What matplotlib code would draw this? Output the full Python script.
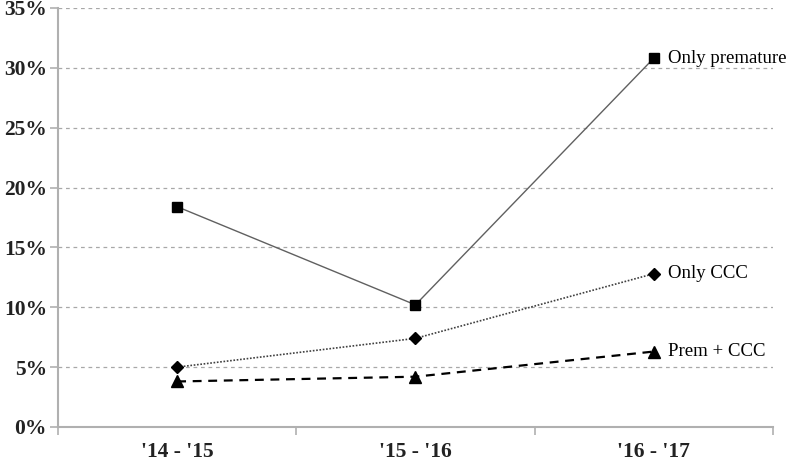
import matplotlib
matplotlib.use('Agg')
import matplotlib.pyplot as plt
from matplotlib.ticker import FuncFormatter

# 数据
periods = ["'14 - '15", "'15 - '16", "'16 - '17"]
only_premature = [18.4, 10.2, 30.8]
only_ccc = [5.0, 7.4, 12.8]
prem_ccc = [3.8, 4.2, 6.3]
y_ticks = [0, 5, 10, 15, 20, 25, 30, 35]

plt.rcParams['font.family'] = ['Liberation Serif', 'DejaVu Serif']

fig = plt.figure(figsize=(7.87, 4.62), dpi=100)
ax = fig.add_axes([0.0737, 0.0758, 0.9083, 0.907])

x = list(range(len(periods)))

ax.plot(x, only_premature, color='#606060', lw=1.0, ls='-',
        marker='s', ms=7, mfc='black', mec='black', zorder=3)
ax.plot(x, only_ccc, color='#404040', lw=1.2, ls=(0, (1, 1)),
        marker='D', ms=6.5, mfc='black', mec='black', zorder=3)
ax.plot(x, prem_ccc, color='black', lw=1.6, ls=(0, (4, 3)),
        marker='^', ms=8.5, mfc='black', mec='black', zorder=3)

# 系列标签
ax.text(x[-1] + 0.06, only_premature[-1], 'Only premature', fontsize=13.5, va='center')
ax.text(x[-1] + 0.06, only_ccc[-1], 'Only CCC', fontsize=13.5, va='center')
ax.text(x[-1] + 0.06, prem_ccc[-1], 'Prem + CCC', fontsize=13.5, va='center')

ax.set_xlim(-0.5, 2.5)
ax.set_ylim(0, 35)
ax.set_yticks(y_ticks)
ax.yaxis.set_major_formatter(FuncFormatter(lambda v, p: f'{v:.0f}%'))
ax.yaxis.grid(True, color='#a8a8a8', ls=(0, (3, 3)), lw=0.9)
ax.set_axisbelow(True)

ax.set_xticks(x)
ax.set_xticklabels(periods)
ax.set_xticks([-0.5, 0.5, 1.5, 2.5], minor=True)
ax.tick_params(axis='x', which='major', length=0, pad=11)
ax.tick_params(axis='x', which='minor', length=6, color='#b0b0b0', width=1.2)
ax.tick_params(axis='y', length=6, color='#b0b0b0', width=1.2, pad=2)

for lab in ax.get_xticklabels() + ax.get_yticklabels():
    lab.set_fontsize(15.5)
    lab.set_fontweight('bold')
    lab.set_color('#222222')

for s in ['top', 'right']:
    ax.spines[s].set_visible(False)
for s in ['left', 'bottom']:
    ax.spines[s].set_color('#b0b0b0')
    ax.spines[s].set_linewidth(1.5)

fig.savefig('out.png', dpi=100)
